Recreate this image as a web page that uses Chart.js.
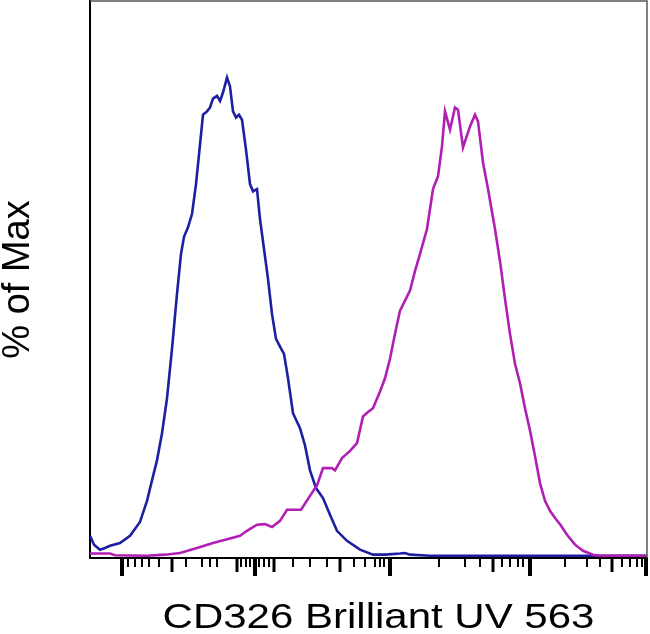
<!DOCTYPE html>
<html lang="en">
<head>
    <meta charset="UTF-8">
    <title>CD326 Brilliant UV 563</title>
    <style>
        body {
            margin: 0;
            padding: 0;
            background-color: #ffffff;
        }
        .chart-container {
            width: 650px;
            height: 634px;
        }
    </style>
</head>
<body>

<div class="chart-container">
    <canvas id="histChart"></canvas>
</div>

<script src="https://cdn.jsdelivr.net/npm/chart.js"></script>
<script>
    // Blue histogram (display channel, % of max)
    var blueX = [0, 4, 10, 15, 20, 30, 40, 50, 57, 62, 67, 72, 77, 82, 87, 91, 94, 98, 102, 106,
        110, 113, 117, 120, 123, 127, 130, 133, 137, 140, 143, 146, 149, 152, 156, 160, 163, 167,
        170, 174, 178, 182, 186, 190, 194, 198, 203, 210, 215, 220, 226, 233, 240, 247, 257, 270,
        283, 295, 310, 315, 320, 340, 557];
    var blueY = [3.6, 2.0, 1.1, 1.4, 1.8, 2.3, 3.6, 6.1, 9.9, 13.6, 17.2, 22.1, 28.4, 37.3, 47.2, 54.4, 57.5, 59.2, 61.6, 67.0,
        74.1, 79.5, 80.1, 80.8, 82.4, 82.9, 82.0, 83.5, 86.2, 84.6, 80.1, 79.0, 79.5, 78.6, 73.2, 67.0, 65.7, 66.1,
        60.7, 55.3, 49.9, 43.6, 39.1, 37.7, 36.4, 32.0, 25.7, 23.0, 19.9, 15.4, 12.2, 10.4, 7.4, 4.5, 2.7, 1.1,
        0.2, 0.2, 0.4, 0.5, 0.2, 0, 0];

    // Magenta histogram
    var pinkX = [0, 20, 25, 57, 75, 90, 107, 123, 140, 150, 157, 167, 175, 182, 190, 197, 211, 220, 227, 233,
        242, 245, 252, 260, 267, 273, 278, 283, 290, 295, 300, 305, 310, 315, 320, 325, 330, 337, 343, 348,
        352, 355, 360, 365, 368, 373, 380, 385, 388, 393, 398, 405, 410, 415, 420, 425, 430, 435, 440, 445,
        450, 455, 460, 465, 470, 477, 485, 493, 503, 510, 557];
    var pinkY = [0.4, 0.4, 0.1, 0, 0.2, 0.5, 1.4, 2.3, 3.1, 3.6, 4.5, 5.6, 5.7, 5.2, 6.3, 8.3, 8.3, 10.8, 12.7, 15.8,
        15.8, 15.4, 17.6, 18.9, 20.3, 25.1, 25.9, 26.6, 29.6, 32.0, 35.5, 40.0, 44.2, 46.0, 47.8, 51.3, 54.4, 58.9, 66.1, 68.4,
        73.8, 80.1, 76.8, 80.8, 80.4, 73.6, 77.4, 79.5, 78.3, 70.9, 66.1, 58.9, 53.1, 46.3, 40.0, 34.6, 31.1, 26.6, 22.6, 18.0,
        13.1, 9.9, 8.1, 6.8, 5.7, 3.8, 2.0, 0.9, 0.2, 0, 0];

    // Logicle-style tick marks on the x axis (display channel)
    var majorTicks = [31.7, 165, 300, 440, 556];
    var mediumTicks = [81.7, 146.5, 183.5, 250, 403, 522];
    var minorTicks = [37.7, 45, 52, 59, 69, 96, 111.7, 120, 126.7, 151, 156, 160, 169, 174, 179,
        203, 220, 236.7, 264, 275, 285, 290, 294, 349, 375, 390, 412, 420, 428, 433,
        475, 497, 510, 532, 540, 547, 552];

    var xTitle = 'CD326 Brilliant UV 563';

    function toPoints(xs, ys) {
        return xs.map(function (x, i) {
            return { x: x, y: ys[i] };
        });
    }

    // Frame on top/right, tick marks below the axis and the (wide) x title
    var axisMarks = {
        id: 'axisMarks',
        afterDraw: function (chart) {
            var ctx = chart.ctx;
            var area = chart.chartArea;
            var xScale = chart.scales.x;
            ctx.save();
            ctx.strokeStyle = '#555555';
            ctx.lineWidth = 1.5;
            ctx.beginPath();
            ctx.moveTo(area.left, area.top);
            ctx.lineTo(area.right, area.top);
            ctx.lineTo(area.right, area.bottom);
            ctx.stroke();

            ctx.strokeStyle = '#000000';
            function drawTicks(list, len, width) {
                ctx.lineWidth = width;
                list.forEach(function (v) {
                    var px = Math.round(xScale.getPixelForValue(v));
                    ctx.beginPath();
                    ctx.moveTo(px, area.bottom + 1);
                    ctx.lineTo(px, area.bottom + len);
                    ctx.stroke();
                });
            }
            drawTicks(minorTicks, 9, 2);
            drawTicks(mediumTicks, 14, 3);
            drawTicks(majorTicks, 18, 4);

            // axis title, stretched horizontally like the original export
            ctx.fillStyle = '#000000';
            ctx.font = '35px "Liberation Sans", Arial, sans-serif';
            ctx.textAlign = 'center';
            ctx.textBaseline = 'alphabetic';
            ctx.translate((area.left + area.right) / 2 + 10, area.bottom + 70);
            ctx.scale(1.2, 1);
            ctx.fillText(xTitle, 0, 0);
            ctx.restore();
        }
    };

    var ctx = document.getElementById('histChart').getContext('2d');
    var histChart = new Chart(ctx, {
        type: 'line',
        data: {
            datasets: [{
                label: 'Isotype',
                data: toPoints(blueX, blueY),
                borderColor: '#1e1ea3',
                borderWidth: 2.6,
                pointRadius: 0,
                tension: 0,
                fill: false,
                order: 2
            }, {
                label: 'CD326',
                data: toPoints(pinkX, pinkY),
                borderColor: '#b01eb4',
                borderWidth: 2.6,
                pointRadius: 0,
                tension: 0,
                fill: false,
                order: 1
            }]
        },
        options: {
            responsive: true,
            maintainAspectRatio: false,
            animation: false,
            layout: {
                padding: { top: 1, right: 3, left: 0, bottom: 76 }
            },
            plugins: {
                legend: { display: false },
                tooltip: { enabled: false }
            },
            scales: {
                x: {
                    type: 'linear',
                    min: 0,
                    max: 557,
                    grid: { display: false, drawTicks: false },
                    ticks: { display: false },
                    border: { display: true, color: '#000000', width: 2 },
                    title: { display: false }
                },
                y: {
                    type: 'linear',
                    min: -0.4,
                    max: 100,
                    grid: { display: false, drawTicks: false },
                    ticks: { display: false },
                    border: { display: true, color: '#000000', width: 2 },
                    title: {
                        display: true,
                        text: '% of Max',
                        color: '#000000',
                        font: { family: 'Liberation Sans, Arial, sans-serif', size: 38, lineHeight: 1 },
                        padding: { top: 0, bottom: 52 }
                    }
                }
            }
        },
        plugins: [axisMarks]
    });
</script>

</body>
</html>
